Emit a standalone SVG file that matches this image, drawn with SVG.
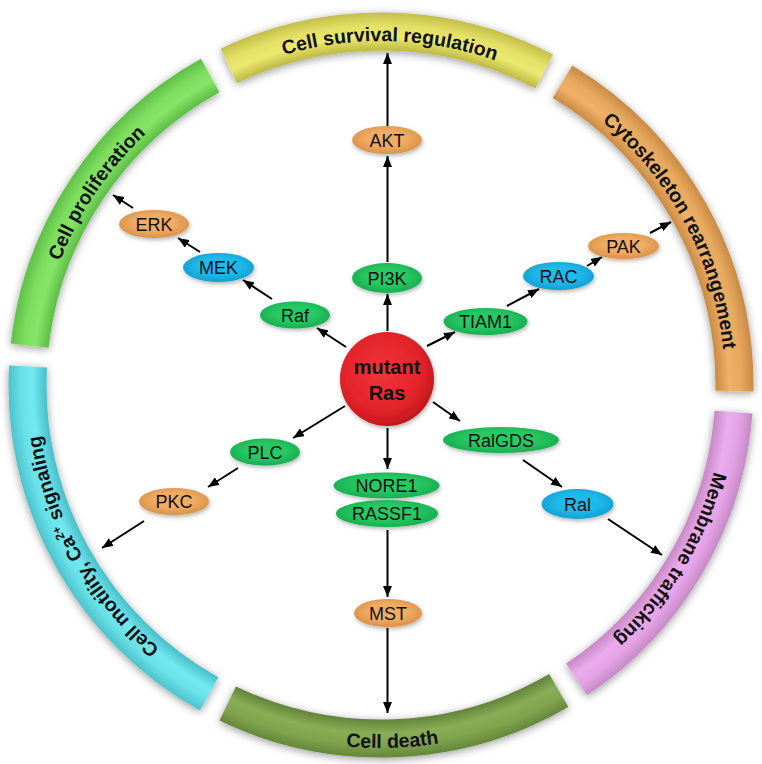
<svg xmlns="http://www.w3.org/2000/svg" width="762" height="764" viewBox="0 0 762 764">
<style>
.seg{fill:none;stroke-width:38;filter:url(#rsh)}
.lbl{font-family:"Liberation Sans",Arial,sans-serif;font-weight:bold;font-size:19.5px;fill:#111}
.nd{filter:url(#nsh)}
.nt{font-family:"Liberation Sans",Arial,sans-serif;font-size:18px;fill:#111;text-anchor:middle}
.con path{fill:none;stroke:#000;stroke-width:2;marker-end:url(#ah)}
.g{fill:url(#gG)}.b{fill:url(#gB)}.o{fill:url(#gO)}
</style>
<defs>
<filter id="rsh" filterUnits="userSpaceOnUse" x="0" y="0" width="762" height="764"><feDropShadow dx="0" dy="2" stdDeviation="4" flood-color="#000" flood-opacity="0.4"/></filter>
<filter id="nsh" x="-30%" y="-40%" width="160%" height="180%"><feDropShadow dx="1" dy="2" stdDeviation="2" flood-color="#000" flood-opacity="0.3"/></filter>
<marker id="ah" viewBox="0 0 11 9" refX="11" refY="4.5" markerWidth="11" markerHeight="9" markerUnits="userSpaceOnUse" orient="auto"><path d="M0,0 L11,4.5 L0,9 z" fill="#000"/></marker>
<radialGradient id="rY" gradientUnits="userSpaceOnUse" cx="381" cy="385" r="372.5"><stop offset="0.898" stop-color="#bdb944"/><stop offset="0.935" stop-color="#ece96f"/><stop offset="0.965" stop-color="#e4e066"/><stop offset="1" stop-color="#c2be48"/></radialGradient>
<radialGradient id="rO" gradientUnits="userSpaceOnUse" cx="381" cy="385" r="372.5"><stop offset="0.898" stop-color="#c98b43"/><stop offset="0.935" stop-color="#efb067"/><stop offset="0.965" stop-color="#e8a95e"/><stop offset="1" stop-color="#c88a44"/></radialGradient>
<radialGradient id="rP" gradientUnits="userSpaceOnUse" cx="381" cy="385" r="372.5"><stop offset="0.898" stop-color="#c589c5"/><stop offset="0.935" stop-color="#ecabec"/><stop offset="0.965" stop-color="#e5a3e5"/><stop offset="1" stop-color="#c58ac5"/></radialGradient>
<radialGradient id="rD" gradientUnits="userSpaceOnUse" cx="381" cy="385" r="372.5"><stop offset="0.898" stop-color="#62843a"/><stop offset="0.935" stop-color="#89ad55"/><stop offset="0.965" stop-color="#80a44e"/><stop offset="1" stop-color="#65873c"/></radialGradient>
<radialGradient id="rC" gradientUnits="userSpaceOnUse" cx="381" cy="385" r="372.5"><stop offset="0.898" stop-color="#47bfc8"/><stop offset="0.935" stop-color="#72e8ef"/><stop offset="0.965" stop-color="#69e1e9"/><stop offset="1" stop-color="#4cc2ca"/></radialGradient>
<radialGradient id="rG" gradientUnits="userSpaceOnUse" cx="381" cy="385" r="372.5"><stop offset="0.898" stop-color="#5cbd45"/><stop offset="0.935" stop-color="#86e567"/><stop offset="0.965" stop-color="#7cdd5e"/><stop offset="1" stop-color="#5ec046"/></radialGradient>
<radialGradient id="gG" cx="0.5" cy="0.45" r="0.55"><stop offset="0.5" stop-color="#28c964"/><stop offset="1" stop-color="#17ad50"/></radialGradient>
<radialGradient id="gB" cx="0.5" cy="0.45" r="0.55"><stop offset="0.5" stop-color="#1fbbec"/><stop offset="1" stop-color="#139fd2"/></radialGradient>
<radialGradient id="gO" cx="0.5" cy="0.45" r="0.55"><stop offset="0.5" stop-color="#f0ac63"/><stop offset="1" stop-color="#d99248"/></radialGradient>
<radialGradient id="gR" cx="0.45" cy="0.42" r="0.6"><stop offset="0" stop-color="#f0353a"/><stop offset="0.7" stop-color="#e2242a"/><stop offset="1" stop-color="#c0161c"/></radialGradient>
<path id="tp1" d="M123.3,157.1 A344,344 0 0 1 650.2,170.9"/>
<path id="tp2" d="M452.5,48.5 A344,344 0 0 1 699.9,513.9"/>
<path id="tp3" d="M706.3,273 A344,344 0 0 1 434.8,724.8"/>
<path id="tp4" d="M110.5,627.1 A363,363 0 0 0 666.4,609.3"/>
<path id="tp5" d="M316.5,722.9 A344,344 0 0 1 59.4,262.8"/>
<path id="tp6" d="M50.3,479.8 A344,344 0 0 1 345.1,42.9"/>
</defs>
<rect width="762" height="764" fill="#fff"/>

<g id="ring-survival"><path class="seg" stroke="url(#rY)" d="M228.8,65.9 A353.5,353.5 0 0 1 544.2,71.4"/>
<text class="lbl"><textPath href="#tp1" startOffset="50%" text-anchor="middle">Cell survival regulation</textPath></text></g>
<g id="ring-cytoskeleton"><path class="seg" stroke="url(#rO)" d="M562.5,81.7 A353.5,353.5 0 0 1 734.4,391.2"/>
<text class="lbl"><textPath href="#tp2" startOffset="50%" text-anchor="middle">Cytoskeleton rearrangement</textPath></text></g>
<g id="ring-membrane"><path class="seg" stroke="url(#rP)" d="M733.5,412.1 A353.5,353.5 0 0 1 576.6,679.4"/>
<text class="lbl"><textPath href="#tp3" startOffset="50%" text-anchor="middle">Membrane trafficking</textPath></text></g>
<g id="ring-death"><path class="seg" stroke="url(#rD)" d="M558.8,690.5 A353.5,353.5 0 0 1 227.7,703.5"/>
<text class="lbl"><textPath href="#tp4" startOffset="50%" text-anchor="middle">Cell death</textPath></text></g>
<g id="ring-motility"><path class="seg" stroke="url(#rC)" d="M209.1,693.9 A353.5,353.5 0 0 1 28,366.5"/>
<text class="lbl"><textPath href="#tp5" startOffset="50%" text-anchor="middle">Cell motility, Ca<tspan dy="-7" font-size="12">2+</tspan><tspan dy="7"> signaling</tspan></textPath></text></g>
<g id="ring-proliferation"><path class="seg" stroke="url(#rG)" d="M29.7,345.6 A353.5,353.5 0 0 1 210.2,75.5"/>
<text class="lbl"><textPath href="#tp6" startOffset="50%" text-anchor="middle">Cell proliferation</textPath></text></g>

<g id="connectors" class="con">
<path d="M346,347 L317,328"/>
<path d="M272,299 L243,280"/>
<path d="M200,252 L178,238"/>
<path d="M133,208 L113,195"/>
<path d="M387.5,331 L387.5,294"/>
<path d="M387.5,262 L387.5,156"/>
<path d="M387.5,126 L387.5,53"/>
<path d="M427,346 L455,332"/>
<path d="M507,306 L539,289"/>
<path d="M587,266 L602,257"/>
<path d="M650,233 L671,222"/>
<path d="M433,402 L460,421"/>
<path d="M523,460 L562,487"/>
<path d="M608,519 L662,555"/>
<path d="M345,406 L293,438"/>
<path d="M238,468 L208,487"/>
<path d="M144,521 L102,548"/>
<path d="M387.5,428 L387.5,469"/>
<path d="M387.5,530 L387.5,597"/>
<path d="M387.5,628 L387.5,713"/>
</g>

<g id="ras"><circle class="nd" cx="387" cy="379" r="47" fill="url(#gR)"/>
<text x="387" y="374" font-family="'Liberation Sans',Arial,sans-serif" font-weight="bold" font-size="20" text-anchor="middle" fill="#111">mutant</text>
<text x="387" y="400" font-family="'Liberation Sans',Arial,sans-serif" font-weight="bold" font-size="20" text-anchor="middle" fill="#111">Ras</text></g>

<g id="akt"><ellipse class="nd o" cx="387" cy="140" rx="35" ry="14"/><text class="nt" x="387" y="146.5">AKT</text></g>
<g id="pi3k"><ellipse class="nd g" cx="387" cy="278" rx="35" ry="15"/><text class="nt" x="387" y="284.5">PI3K</text></g>
<g id="raf"><ellipse class="nd g" cx="295" cy="315" rx="35" ry="13.5"/><text class="nt" x="295" y="321.5">Raf</text></g>
<g id="mek"><ellipse class="nd b" cx="218.5" cy="267.5" rx="35.5" ry="14.5"/><text class="nt" x="218.5" y="274">MEK</text></g>
<g id="erk"><ellipse class="nd o" cx="154" cy="224" rx="35" ry="14"/><text class="nt" x="154" y="230.5">ERK</text></g>
<g id="tiam1"><ellipse class="nd g" cx="485.5" cy="321.5" rx="42" ry="13.5"/><text class="nt" x="485.5" y="328">TIAM1</text></g>
<g id="rac"><ellipse class="nd b" cx="558.5" cy="276" rx="35.5" ry="14"/><text class="nt" x="558.5" y="282.5">RAC</text></g>
<g id="pak"><ellipse class="nd o" cx="623.5" cy="246" rx="35.5" ry="13"/><text class="nt" x="623.5" y="252.5">PAK</text></g>
<g id="ralgds"><ellipse class="nd g" cx="501" cy="440" rx="58" ry="13"/><text class="nt" x="501" y="446.5">RalGDS</text></g>
<g id="ral"><ellipse class="nd b" cx="577.5" cy="504" rx="36" ry="15"/><text class="nt" x="577.5" y="510.5">Ral</text></g>
<g id="plc"><ellipse class="nd g" cx="265" cy="452" rx="35" ry="13.5"/><text class="nt" x="265" y="458.5">PLC</text></g>
<g id="pkc"><ellipse class="nd o" cx="174" cy="501.5" rx="35" ry="13.5"/><text class="nt" x="174" y="508">PKC</text></g>
<g id="nore1"><ellipse class="nd g" cx="386.5" cy="485.5" rx="53" ry="13"/><text class="nt" x="386.5" y="492">NORE1</text></g>
<g id="rassf1"><ellipse class="nd g" cx="387" cy="513.5" rx="51" ry="13.5"/><text class="nt" x="387" y="520">RASSF1</text></g>
<g id="mst"><ellipse class="nd o" cx="388" cy="613" rx="34" ry="14"/><text class="nt" x="388" y="619.5">MST</text></g>
</svg>
